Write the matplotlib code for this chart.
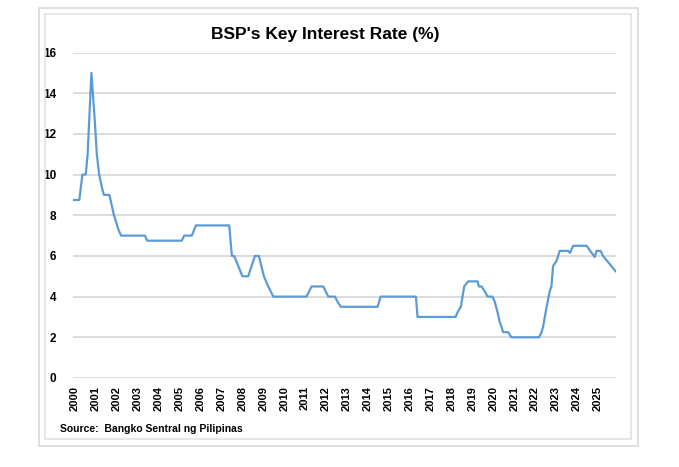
import matplotlib
matplotlib.use("Agg")
import matplotlib.pyplot as plt
from matplotlib.patches import Rectangle

# Data: (decimal year, key policy rate %) breakpoints
years = [2000.0, 2000.25, 2000.4, 2000.56, 2000.65, 2000.83, 2000.97, 2001.09, 2001.2,
         2001.37, 2001.43, 2001.69, 2001.91, 2002.12, 2002.25, 2003.39, 2003.5, 2005.15,
         2005.27, 2005.63, 2005.83, 2007.42, 2007.55, 2007.66, 2008.05, 2008.33, 2008.65,
         2008.84, 2009.08, 2009.29, 2009.53, 2011.12, 2011.36, 2011.92, 2012.16, 2012.48,
         2012.6, 2012.76, 2014.52, 2014.66, 2016.35, 2016.43, 2018.25, 2018.35, 2018.5,
         2018.66, 2018.85, 2019.3, 2019.36, 2019.49, 2019.65, 2019.78, 2020.01, 2020.12,
         2020.25, 2020.36, 2020.45, 2020.52, 2020.76, 2020.92, 2022.24, 2022.36, 2022.43,
         2022.6, 2022.75, 2022.83, 2022.91, 2023.07, 2023.23, 2023.63, 2023.72, 2023.87,
         2024.51, 2024.9, 2024.99, 2025.18, 2025.3, 2025.9]
rates = [8.75, 8.75, 10.0, 10.0, 11.0, 15.0, 13.0, 11.0, 10.0,
         9.2, 9.0, 9.0, 8.0, 7.3, 7.0, 7.0, 6.75, 6.75,
         7.0, 7.0, 7.5, 7.5, 6.0, 6.0, 5.0, 5.0, 6.0,
         6.0, 5.0, 4.5, 4.0, 4.0, 4.5, 4.5, 4.0, 4.0,
         3.75, 3.5, 3.5, 4.0, 4.0, 3.0, 3.0, 3.25, 3.5,
         4.5, 4.75, 4.75, 4.5, 4.5, 4.25, 4.0, 4.0, 3.75,
         3.25, 2.75, 2.5, 2.25, 2.25, 2.0, 2.0, 2.25, 2.5,
         3.5, 4.25, 4.5, 5.5, 5.75, 6.25, 6.25, 6.15, 6.5,
         6.5, 5.95, 6.25, 6.25, 6.0, 5.25]
tick_years = list(range(2000, 2026))
y_ticks = [0, 2, 4, 6, 8, 10, 12, 14, 16]
title = "BSP's Key Interest Rate (%)"
source = "Source:  Bangko Sentral ng Pilipinas"

W, H = 679, 467
fig = plt.figure(figsize=(W / 100, H / 100), dpi=100)
fig.patch.set_facecolor("white")

# frames
fig.patches.append(Rectangle((39 / W, 1 - 446 / H), (638 - 39) / W, (446 - 8) / H,
                             transform=fig.transFigure, fill=False, edgecolor="#d9d9de", lw=1.2))
fig.patches.append(Rectangle((45 / W, 1 - 439 / H), (631 - 45) / W, (439 - 14) / H,
                             transform=fig.transFigure, fill=False, edgecolor="#e2e2e2", lw=1.2))

ax = fig.add_axes([73 / W, 1 - 378 / H, (616 - 73) / W, (378 - 52.5) / H])
ax.plot(years, rates, color="#5b9bd5", lw=1.6, solid_joinstyle="round", zorder=3)

ax.set_ylim(0, 16)
ax.set_xlim(1999.95, 2025.92)
ax.set_yticks(y_ticks)
ax.set_xticks([y + 0.05 for y in tick_years])
ax.set_xticklabels([str(y) for y in tick_years], rotation=90, fontsize=8,
                   fontweight="bold", family="Liberation Sans")
ax.set_yticklabels([str(v) for v in y_ticks], fontsize=8.5, fontweight="bold",
                   family="Liberation Sans")
ax.tick_params(axis="both", length=0)
ax.tick_params(axis="y", pad=12)
ax.tick_params(axis="x", pad=6)
ax.grid(axis="y", color="#dcdcdc", lw=1.4)
ax.set_axisbelow(True)
for s in ax.spines.values():
    s.set_visible(False)

fig.text(325 / W, 1 - 34 / H, title, ha="center", va="center", fontsize=12.5,
         fontweight="bold", family="Liberation Sans")
fig.text(60 / W, 1 - 429 / H, source, ha="left", va="center", fontsize=7.5,
         fontweight="bold", family="Liberation Sans")

fig.savefig("out.png", dpi=100, facecolor="white")
